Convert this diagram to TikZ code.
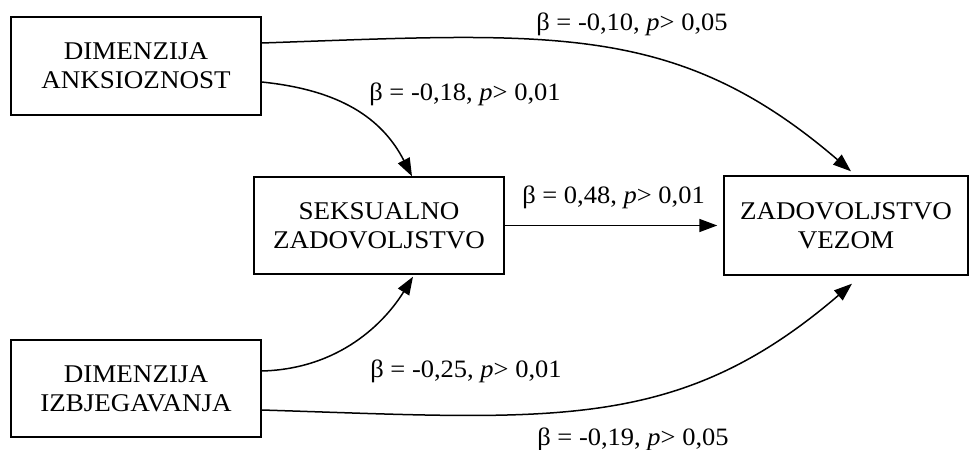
\documentclass[tikz,border=0pt]{standalone}
\usepackage{fontspec}
\setmainfont{Liberation Serif}[FakeStretch=1.06]
\usetikzlibrary{arrows.meta}
\begin{document}
\begin{tikzpicture}[x=1pt,y=-1pt,
  box/.style={draw, line width=1.4pt, inner sep=0pt, align=center,
    font=\fontsize{25.5}{29}\selectfont},
  lbl/.style={anchor=base, inner sep=0pt, font=\fontsize{25}{29}\selectfont},
  conn/.style={line width=1.5pt, -{Triangle[length=18pt,width=13pt]}}]
\useasboundingbox (0,0) rectangle (970,450);
\node[box, minimum width=250pt, minimum height=98pt] (anks) at (136,66) {DIMENZIJA\\ANKSIOZNOST};
\node[box, minimum width=250pt, minimum height=97pt] (seks) at (379,225.5) {SEKSUALNO\\ZADOVOLJSTVO};
\node[box, minimum width=244pt, minimum height=99pt] (vez) at (846,225.5) {ZADOVOLJSTVO\\VEZOM};
\node[box, minimum width=250pt, minimum height=97pt] (izbj) at (136,388.5) {DIMENZIJA\\IZBJEGAVANJA};

\draw[conn] ([yshift=23pt]anks.east) .. controls (551,33) and (676,21) .. ([xshift=5pt,yshift=4pt]vez.north);
\draw[conn] ([yshift=-16pt]anks.east) .. controls (340,90) and (382,118) .. ([xshift=33pt]seks.north);
\draw[conn] ([yshift=17.5pt]izbj.east) .. controls (340,369) and (385,322) .. ([xshift=34pt,yshift=-2pt]seks.south);
\draw[conn] ([yshift=-21.5pt]izbj.east) .. controls (551,419) and (677,434) .. ([xshift=6pt,yshift=-8pt]vez.south);
\draw[conn] (seks.east) -- ([xshift=-6pt]vez.west);

\node[lbl] (l1) at (632,30) {β = -0,10, \textit{p}> 0,05};
\node[lbl] (l2) at (465,100) {β = -0,18, \textit{p}> 0,01};
\node[lbl] (l3) at (613.5,203) {β = 0,48, \textit{p}> 0,01};
\node[lbl] (l4) at (466,377) {β = -0,25, \textit{p}> 0,01};
\node[lbl] (l5) at (633,445) {β = -0,19, \textit{p}> 0,05};
\end{tikzpicture}
\end{document}
